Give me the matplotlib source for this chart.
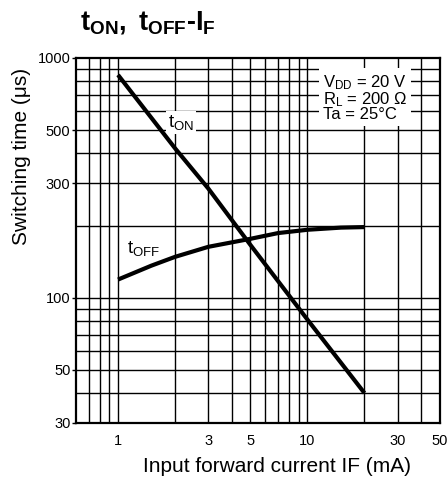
import matplotlib
matplotlib.use("Agg")
import matplotlib.pyplot as plt
import numpy as np

plt.rcParams['font.family'] = ['Liberation Sans', 'DejaVu Sans']
plt.rcParams['mathtext.fontset'] = 'custom'
plt.rcParams['mathtext.rm'] = 'Liberation Sans'
plt.rcParams['mathtext.it'] = 'Liberation Sans'
plt.rcParams['mathtext.bf'] = 'Liberation Sans:bold'

# Data
if_on = [1, 2, 3, 5, 10, 20]
t_on = [850, 420, 285, 166, 81, 40]
if_off = [1, 1.5, 2, 3, 5, 7, 10, 15, 20]
t_off = [119, 136, 148, 163, 176, 186, 192, 196, 197]

x_ticks = [1, 3, 5, 10, 30, 50]
x_ticklabels = ['1', '3', '5', '10', '30', '50']
y_ticks = [30, 50, 100, 300, 500, 1000]
y_ticklabels = ['30', '50', '100', '300', '500', '1000']

fig = plt.figure(figsize=(4.47, 4.88), dpi=100)
ax = fig.add_axes([0.170, 0.1332, 0.814, 0.7480])
ax.set_xscale('log')
ax.set_yscale('log')
ax.set_xlim(0.6, 50)
ax.set_ylim(30, 1000)

# grid lines
xg = [0.7, 0.8, 0.9] + [d * m for d in (1, 10) for m in range(1, 10)] + [20, 30, 40]
xg = sorted(set([v for v in xg if 0.6 < v < 50]))
yg = sorted(set([d * m for d in (10, 100) for m in range(1, 10)] + [1000]))
yg = [v for v in yg if 30 < v < 1000]
for v in xg:
    ax.axvline(v, color='black', lw=1.0, zorder=1)
for v in yg:
    ax.axhline(v, color='black', lw=1.0, zorder=1)

ax.plot(if_on, t_on, color='black', lw=3.0, solid_capstyle='butt', zorder=3)
ax.plot(if_off, t_off, color='black', lw=3.0, solid_capstyle='butt', zorder=3)

ax.set_xticks(x_ticks)
ax.set_xticklabels(x_ticklabels)
ax.set_yticks(y_ticks)
ax.set_yticklabels(y_ticklabels)
ax.xaxis.set_minor_locator(matplotlib.ticker.NullLocator())
ax.yaxis.set_minor_locator(matplotlib.ticker.NullLocator())
ax.tick_params(axis='x', length=0, pad=8, labelsize=10.5)
ax.tick_params(axis='y', length=3, width=1.0, pad=1, labelsize=10.5)
for s in ax.spines.values():
    s.set_linewidth(1.6)
    s.set_zorder(4)

ax.set_xlabel('Input forward current IF (mA)', fontsize=15, va='top')
ax.xaxis.set_label_coords(0.553, -0.092)
ax.set_ylabel('Switching time (\u03bcs)', fontsize=15)
ax.yaxis.set_label_coords(-0.124, 0.729)

# curve labels
ax.text(1.84, 491, r'$\mathregular{t_{ON}}$', fontsize=13.5, ha='left', va='bottom', zorder=2,
        bbox=dict(facecolor='white', edgecolor='none', pad=1.5))
ax.text(1.115, 147, r'$\mathregular{t_{OFF}}$', fontsize=13.5, ha='left', va='bottom', zorder=2,
        bbox=dict(facecolor='white', edgecolor='none', pad=1.0))

# condition box
ax.text(12.1, 681, 'V$_{\\mathregular{DD}}$ = 20 V\nR$_{\\mathregular{L}}$ = 200 \u03a9\nTa = 25\u00b0C',
        fontsize=12, ha='left', va='center', linespacing=0.85, zorder=2,
        bbox=dict(facecolor='white', edgecolor='none', pad=3))

# title
fig.text(0.178, 0.939, r'$\mathbf{t_{ON},\ t_{OFF}}$-$\mathbf{I_F}$', fontsize=19.5,
         fontweight='bold', ha='left', va='baseline')

fig.savefig('out.png', dpi=100)
